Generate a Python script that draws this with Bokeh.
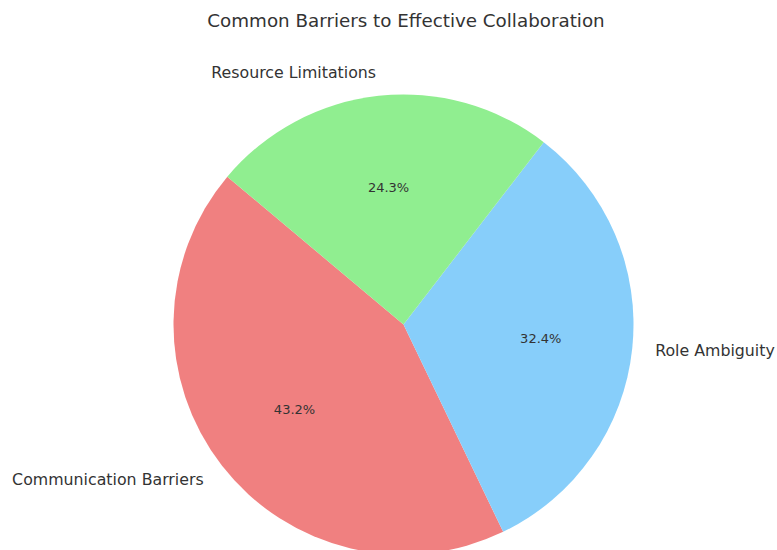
import numpy as np
from bokeh.plotting import figure
from bokeh.models import Range1d, ColumnDataSource
from bokeh.core.properties import value
from bokeh.embed import file_html
from bokeh.resources import INLINE

title_text = "Common Barriers to Effective Collaboration"
categories = ["Communication Barriers", "Role Ambiguity", "Resource Limitations"]
counts = [16, 12, 9]
colors = ["#F08080", "#87CEFA", "#90EE90"]
start_angle = 140.0

W, H = 777, 550
cx, cy, r = 403, H - 324, 230

p = figure(width=W, height=H, output_backend="svg", toolbar_location=None,
           x_range=Range1d(0, W), y_range=Range1d(0, H), min_border=0)
p.axis.visible = False
p.grid.visible = False
p.outline_line_color = None
p.background_fill_color = "white"
p.border_fill_color = "white"

vals = np.array(counts, dtype=float)
frac = vals / vals.sum()
ends = start_angle + 360 * np.cumsum(frac)
starts = ends - 360 * frac
mids = np.radians((starts + ends) / 2)

src = ColumnDataSource(dict(s=np.radians(starts), e=np.radians(ends), c=colors,
                            x=[cx] * len(vals), y=[cy] * len(vals)))
p.wedge(x="x", y="y", radius=r, start_angle="s", end_angle="e",
        direction="anticlock", fill_color="c",
        line_color=None, source=src)

# category labels
lx = cx + 1.1 * r * np.cos(mids)
ly = cy + 1.1 * r * np.sin(mids)
aligns = ["left" if np.cos(m) > 0 else "right" for m in mids]
p.text(x=lx, y=ly, text=categories, text_align=aligns, text_baseline="middle",
       text_font=value("DejaVu Sans"), text_font_size="15.8px", text_color="#333333")

# percentage labels
px_ = cx + 0.6 * r * np.cos(mids)
py_ = cy + 0.6 * r * np.sin(mids)
pcts = ["%.1f%%" % (f * 100) for f in frac]
p.text(x=px_, y=py_, text=pcts, text_align="center", text_baseline="middle",
       text_font=value("DejaVu Sans"), text_font_size="13px", text_color="#333333")

# title
p.text(x=[W / 2 + 17], y=[H - 20], text=[title_text], text_align="center",
       text_baseline="middle", text_font=value("DejaVu Sans"),
       text_font_size="18.3px", text_color="#333333")

open("out.html", "w").write(file_html(p, INLINE))
